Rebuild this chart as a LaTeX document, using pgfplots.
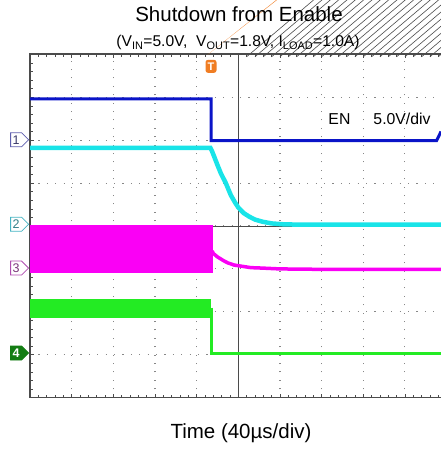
\documentclass[border=0pt]{standalone}
\usepackage{fontspec}
\setmainfont{Liberation Sans}
\usepackage{pgfplots}
\pgfplotsset{compat=1.18}
\usetikzlibrary{shapes.symbols}
\definecolor{chblue}{RGB}{10,20,200}
\definecolor{chcyan}{RGB}{25,228,232}
\definecolor{chmag}{RGB}{250,0,245}
\definecolor{chgreen}{RGB}{35,235,35}
\definecolor{trigor}{RGB}{240,125,35}
\definecolor{mkone}{RGB}{95,95,175}
\definecolor{mktwo}{RGB}{70,180,195}
\definecolor{mkthree}{RGB}{175,75,175}
\definecolor{mkfour}{RGB}{20,125,20}
\definecolor{gridc}{RGB}{135,135,135}
\definecolor{framec}{RGB}{75,75,75}
\begin{document}
\begin{tikzpicture}[x=1bp,y=1bp]
\begin{axis}[
  at={(30bp,52.3bp)}, anchor=south west,
  width=411bp, height=343.4bp, scale only axis,
  xmin=-5, xmax=4.866, ymin=-4, ymax=4,
  xtick={-5,...,4}, ytick={-4,...,4},
  minor xtick={-4.8,-4.6,...,4.81}, minor y tick num=4,
  ytick pos=left,
  xticklabels={}, yticklabels={},
  tick align=inside,
  major tick length=4bp, minor tick length=3bp,
  every tick/.style={framec, line width=0.6bp},
  axis line style={draw=none},
  grid=major,
  major grid style={gridc, line width=1.1bp, dash pattern=on 1.1bp off 7.3bp},
  clip=false,
]
% frame (right side lies beyond the picture)
\draw[framec, line width=1.6bp] (rel axis cs:1,1) -- (rel axis cs:0,1) -- (rel axis cs:0,0) -- (rel axis cs:1,0);
% center crosshair
\draw[framec, line width=0.9bp] (axis cs:-5,0) -- (axis cs:4.866,0);
\draw[framec, line width=0.9bp] (axis cs:0,-4) -- (axis cs:0,4);
\pgfplotsinvokeforeach{-4.8,-4.6,...,4.81}{\draw[framec, line width=0.6bp] (axis cs:#1,0) ++(0,-2.5bp) -- ++(0,5bp);}
\pgfplotsinvokeforeach{-3.8,-3.6,...,3.81}{\draw[framec, line width=0.6bp] (axis cs:0,#1) ++(-2.5bp,0) -- ++(5bp,0);}
% green (ch4)
\addplot[fill=chgreen, draw=chgreen, line width=1bp] coordinates {(-5,-1.72) (-0.66,-1.72) (-0.66,-2.14) (-5,-2.14)} -- cycle;
\addplot[chgreen, line width=3bp] coordinates {(-0.645,-1.9) (-0.645,-2.96) (4.866,-2.96)};
% magenta (ch3)
\addplot[fill=chmag, draw=chmag, line width=1bp] coordinates {(-5,0) (-0.625,0) (-0.625,-1.09) (-5,-1.09)} -- cycle;
\addplot[chmag, line width=3.5bp] coordinates {(-0.625,-0.58) (-0.6,-0.64) (-0.5,-0.72) (-0.35,-0.81) (-0.25,-0.86) (-0.1,-0.91) (0.1,-0.94) (0.3,-0.97) (0.56,-0.98) (1,-1.0) (2,-1.01) (4.866,-1.01)};
% cyan (ch2)
\addplot[chcyan, line width=4.5bp] coordinates {(-5,1.82) (-0.67,1.82) (-0.63,1.74) (-0.58,1.62) (-0.5,1.42) (-0.42,1.23) (-0.3,1.0) (-0.18,0.72) (-0.08,0.55) (0,0.43) (0.13,0.3) (0.26,0.22) (0.4,0.15) (0.58,0.1) (0.8,0.06) (1.07,0.04) (1.5,0.03) (4.866,0.03)};
% blue (ch1, EN)
\addplot[chblue, line width=3bp] coordinates {(-5,2.96) (-0.655,2.96) (-0.655,1.99) (4.76,1.99) (4.866,2.2)};
% channel markers
\node[signal, signal to=east, draw=mkone, fill=white, line width=0.8bp, text=mkone!60!black, font=\fontsize{12.5bp}{13bp}\selectfont, minimum width=18bp, minimum height=14bp, inner sep=0.5bp, anchor=east] at (axis cs:-5.02,2.01) {1};
\node[signal, signal to=east, draw=mktwo, fill=white, line width=0.8bp, text=mktwo!70!black, font=\fontsize{12.5bp}{13bp}\selectfont, minimum width=18bp, minimum height=14bp, inner sep=0.5bp, anchor=east] at (axis cs:-5.02,0.04) {2};
\node[signal, signal to=east, draw=mkthree, fill=white, line width=0.8bp, text=mkthree!70!black, font=\fontsize{12.5bp}{13bp}\selectfont, minimum width=18bp, minimum height=14bp, inner sep=0.5bp, anchor=east] at (axis cs:-5.02,-0.98) {3};
\node[signal, signal to=east, draw=mkfour, fill=mkfour, line width=0.8bp, text=white, font=\fontsize{12.5bp}{13bp}\selectfont\bfseries, minimum width=18bp, minimum height=14bp, inner sep=0.5bp, anchor=east] at (axis cs:-5.02,-2.96) {4};
% trigger marker
\fill[trigor] (axis cs:-0.655,4) ++(-3.5bp,-0.5bp) -- ++(7bp,0) -- ++(-3.5bp,-4.5bp) -- cycle;
\node[fill=trigor, rounded corners=2.5bp, text=white, font=\fontsize{11bp}{12bp}\selectfont\bfseries, minimum width=11bp, minimum height=13bp, inner sep=0pt] at (axis cs:-0.655,3.72) {T};
% EN label
\node[anchor=base west, inner sep=0, font=\fontsize{15.8bp}{18bp}\selectfont] at (axis cs:2.16,2.375) {EN};
\node[anchor=base west, inner sep=0, font=\fontsize{15.8bp}{18bp}\selectfont] at (axis cs:3.24,2.375) {5.0V/div};
\end{axis}
\node[anchor=base, inner sep=0, font=\fontsize{20.5bp}{24bp}\selectfont] at (239,428.6) {Shutdown from Enable};
\node[anchor=base, inner sep=0, font=\fontsize{15.6bp}{18bp}\selectfont] at (238,403.3) {(V\textsubscript{IN}=5.0V,\ \ V\textsubscript{OUT}=1.8V, I\textsubscript{LOAD}=1.0A)};
\node[anchor=base, inner sep=0, font=\fontsize{20.5bp}{24bp}\selectfont] at (241,11) {Time (40µs/div)};
\pgfresetboundingbox
\path[use as bounding box] (0,0) rectangle (441,450);
\end{tikzpicture}
\end{document}
